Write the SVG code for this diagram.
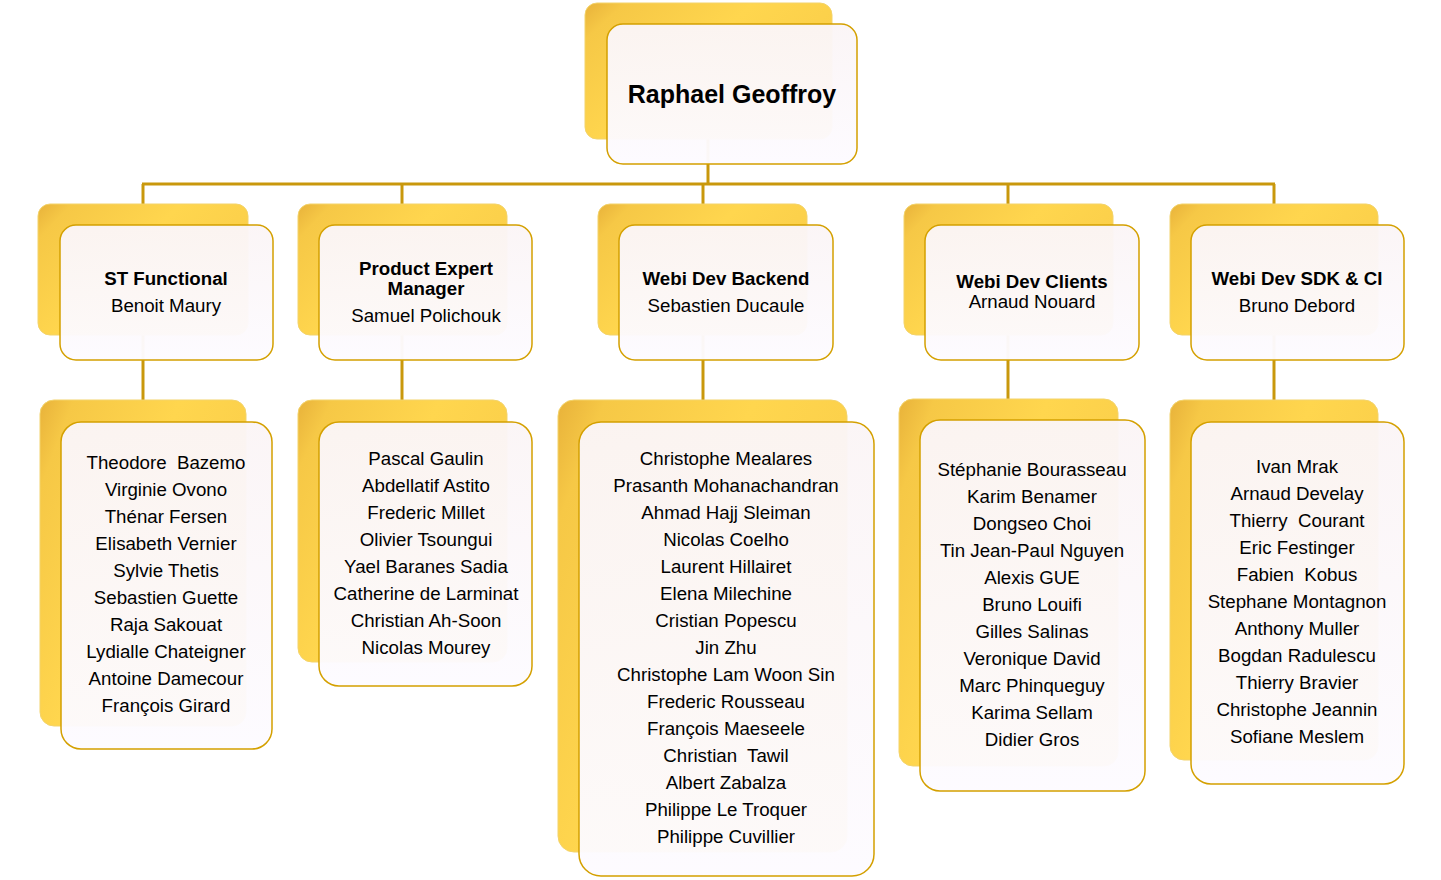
<svg xmlns="http://www.w3.org/2000/svg" width="1441" height="880" viewBox="0 0 1441 880">
<defs>
<linearGradient id="gold" x1="0" y1="0" x2="1" y2="0.6">
<stop offset="0" stop-color="#e8b23a"/>
<stop offset="0.12" stop-color="#f6c846"/>
<stop offset="0.5" stop-color="#ffd64e"/>
<stop offset="1" stop-color="#f9cc48"/>
</linearGradient>
<linearGradient id="card" x1="0" y1="0" x2="0" y2="1">
<stop offset="0" stop-color="#fbf5f6"/>
<stop offset="1" stop-color="#fdfbff"/>
</linearGradient>
</defs>
<style>
.back{fill:url(#gold);stroke:#f3d36a;stroke-width:1}
.front{fill:url(#card);fill-opacity:0.97;stroke:#d4a000;stroke-width:1.5}
.conn{stroke:#c9980c;stroke-width:3;fill:none}
text{font-family:"Liberation Sans",Arial,sans-serif;fill:#000;text-anchor:middle}
.t{font-size:18.7px;white-space:pre}
.b{font-size:18.7px;font-weight:bold}
.top{font-size:25px;font-weight:bold}
</style>
<rect width="1441" height="880" fill="#ffffff"/>
<g id="connectors">
<line class="conn" x1="708" y1="100" x2="708" y2="184"/>
<line class="conn" x1="142" y1="184" x2="1275" y2="184"/>
<line class="conn" x1="143" y1="184" x2="143" y2="215"/>
<line class="conn" x1="402" y1="184" x2="402" y2="215"/>
<line class="conn" x1="703" y1="184" x2="703" y2="215"/>
<line class="conn" x1="1008" y1="184" x2="1008" y2="215"/>
<line class="conn" x1="1274" y1="184" x2="1274" y2="215"/>
<line class="conn" x1="143" y1="320" x2="143" y2="410"/>
<line class="conn" x1="402" y1="320" x2="402" y2="410"/>
<line class="conn" x1="703" y1="320" x2="703" y2="410"/>
<line class="conn" x1="1008" y1="320" x2="1008" y2="410"/>
<line class="conn" x1="1274" y1="320" x2="1274" y2="410"/>
</g>
<g id="raphael">
<rect class="back" x="585" y="3" width="247" height="136" rx="12"/>
<rect class="front" x="607" y="24" width="250" height="140" rx="16"/>
<text class="top" x="732" y="103">Raphael Geoffroy</text>
</g>
<g id="st-functional">
<rect class="back" x="38" y="204" width="210" height="131" rx="12"/>
<rect class="front" x="60" y="225" width="213" height="135" rx="16"/>
<text class="b" x="166" y="285">ST Functional</text>
<text class="t" x="166" y="312">Benoit Maury</text>
</g>
<g id="product-expert">
<rect class="back" x="298" y="204" width="209" height="131" rx="12"/>
<rect class="front" x="319" y="225" width="213" height="135" rx="16"/>
<text class="b" x="426" y="275">Product Expert</text>
<text class="b" x="426" y="295">Manager</text>
<text class="t" x="426" y="322">Samuel Polichouk</text>
</g>
<g id="webi-backend">
<rect class="back" x="598" y="204" width="209" height="131" rx="12"/>
<rect class="front" x="619" y="225" width="214" height="135" rx="16"/>
<text class="b" x="726" y="285">Webi Dev Backend</text>
<text class="t" x="726" y="312">Sebastien Ducaule</text>
</g>
<g id="webi-clients">
<rect class="back" x="904" y="204" width="209" height="131" rx="12"/>
<rect class="front" x="925" y="225" width="214" height="135" rx="16"/>
<text class="b" x="1032" y="288">Webi Dev Clients</text>
<text class="t" x="1032" y="308">Arnaud Nouard</text>
</g>
<g id="webi-sdk">
<rect class="back" x="1170" y="204" width="208" height="131" rx="12"/>
<rect class="front" x="1191" y="225" width="213" height="135" rx="16"/>
<text class="b" x="1297" y="285">Webi Dev SDK &amp; CI</text>
<text class="t" x="1297" y="312">Bruno Debord</text>
</g>
<g id="st-team">
<rect class="back" x="40" y="400" width="206" height="326" rx="14"/>
<rect class="front" x="61" y="422" width="211" height="327" rx="20"/>
<text class="t" x="166" y="469">Theodore  Bazemo</text>
<text class="t" x="166" y="496">Virginie Ovono</text>
<text class="t" x="166" y="523">Thénar Fersen</text>
<text class="t" x="166" y="550">Elisabeth Vernier</text>
<text class="t" x="166" y="577">Sylvie Thetis</text>
<text class="t" x="166" y="604">Sebastien Guette</text>
<text class="t" x="166" y="631">Raja Sakouat</text>
<text class="t" x="166" y="658">Lydialle Chateigner</text>
<text class="t" x="166" y="685">Antoine Damecour</text>
<text class="t" x="166" y="712">François Girard</text>
</g>
<g id="product-team">
<rect class="back" x="298" y="400" width="209" height="262" rx="14"/>
<rect class="front" x="319" y="422" width="213" height="264" rx="20"/>
<text class="t" x="426" y="465">Pascal Gaulin</text>
<text class="t" x="426" y="492">Abdellatif Astito</text>
<text class="t" x="426" y="519">Frederic Millet</text>
<text class="t" x="426" y="546">Olivier Tsoungui</text>
<text class="t" x="426" y="573">Yael Baranes Sadia</text>
<text class="t" x="426" y="600">Catherine de Larminat</text>
<text class="t" x="426" y="627">Christian Ah-Soon</text>
<text class="t" x="426" y="654">Nicolas Mourey</text>
</g>
<g id="backend-team">
<rect class="back" x="558" y="400" width="289" height="452" rx="16"/>
<rect class="front" x="579" y="422" width="295" height="454" rx="22"/>
<text class="t" x="726" y="465">Christophe Mealares</text>
<text class="t" x="726" y="492">Prasanth Mohanachandran</text>
<text class="t" x="726" y="519">Ahmad Hajj Sleiman</text>
<text class="t" x="726" y="546">Nicolas Coelho</text>
<text class="t" x="726" y="573">Laurent Hillairet</text>
<text class="t" x="726" y="600">Elena Milechine</text>
<text class="t" x="726" y="627">Cristian Popescu</text>
<text class="t" x="726" y="654">Jin Zhu</text>
<text class="t" x="726" y="681">Christophe Lam Woon Sin</text>
<text class="t" x="726" y="708">Frederic Rousseau</text>
<text class="t" x="726" y="735">François Maeseele</text>
<text class="t" x="726" y="762">Christian  Tawil</text>
<text class="t" x="726" y="789">Albert Zabalza</text>
<text class="t" x="726" y="816">Philippe Le Troquer</text>
<text class="t" x="726" y="843">Philippe Cuvillier</text>
</g>
<g id="clients-team">
<rect class="back" x="899" y="399" width="219" height="367" rx="14"/>
<rect class="front" x="920" y="420" width="225" height="371" rx="20"/>
<text class="t" x="1032" y="476">Stéphanie Bourasseau</text>
<text class="t" x="1032" y="503">Karim Benamer</text>
<text class="t" x="1032" y="530">Dongseo Choi</text>
<text class="t" x="1032" y="557">Tin Jean-Paul Nguyen</text>
<text class="t" x="1032" y="584">Alexis GUE</text>
<text class="t" x="1032" y="611">Bruno Louifi</text>
<text class="t" x="1032" y="638">Gilles Salinas</text>
<text class="t" x="1032" y="665">Veronique David</text>
<text class="t" x="1032" y="692">Marc Phinqueguy</text>
<text class="t" x="1032" y="719">Karima Sellam</text>
<text class="t" x="1032" y="746">Didier Gros</text>
</g>
<g id="sdk-team">
<rect class="back" x="1170" y="400" width="208" height="360" rx="14"/>
<rect class="front" x="1191" y="422" width="213" height="362" rx="20"/>
<text class="t" x="1297" y="473">Ivan Mrak</text>
<text class="t" x="1297" y="500">Arnaud Develay</text>
<text class="t" x="1297" y="527">Thierry  Courant</text>
<text class="t" x="1297" y="554">Eric Festinger</text>
<text class="t" x="1297" y="581">Fabien  Kobus</text>
<text class="t" x="1297" y="608">Stephane Montagnon</text>
<text class="t" x="1297" y="635">Anthony Muller</text>
<text class="t" x="1297" y="662">Bogdan Radulescu</text>
<text class="t" x="1297" y="689">Thierry Bravier</text>
<text class="t" x="1297" y="716">Christophe Jeannin</text>
<text class="t" x="1297" y="743">Sofiane Meslem</text>
</g>
</svg>
